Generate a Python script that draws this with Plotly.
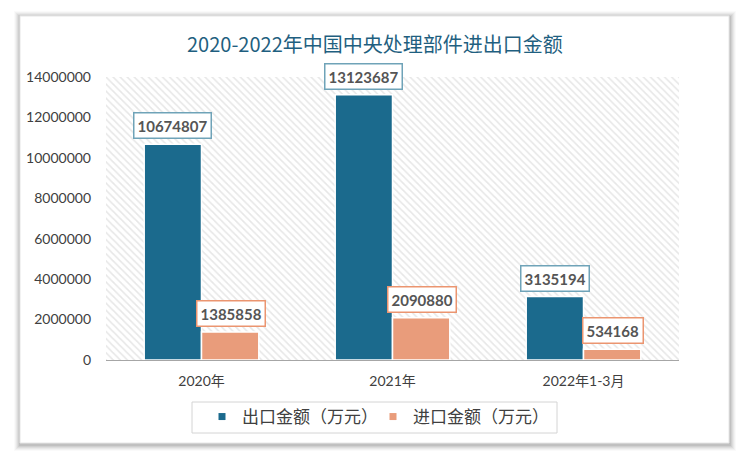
import plotly.graph_objects as go

categories = ["2020年", "2021年", "2022年1-3月"]
export_values = [10674807, 13123687, 3135194]
import_values = [1385858, 2090880, 534168]
export_name = "出口金额（万元）"
import_name = "进口金额（万元）"
title_text = "2020-2022年中国中央处理部件进出口金额"
y_tick_values = [0, 2000000, 4000000, 6000000, 8000000, 10000000, 12000000, 14000000]

EXPORT_COLOR = "#1B6A8D"
IMPORT_COLOR = "#E99C7B"
FONT = "Lato, 'Noto Sans CJK SC', sans-serif"

OFF = 8  # page body margin
W, H = 750 - OFF, 461 - OFF

fig = go.Figure()

# hatched plot-area background
fig.add_trace(go.Bar(
    x=[0.5], y=[y_tick_values[-1]], width=[1], xaxis="x", yaxis="y",
    marker=dict(color="white", line=dict(width=0),
                pattern=dict(shape="\\", fgcolor="#cfcfcf", bgcolor="white", size=5, solidity=0.32)),
    showlegend=False, hoverinfo="skip",
))

fig.add_trace(go.Bar(
    x=categories, y=export_values, name=export_name, xaxis="x2", yaxis="y",
    marker=dict(color=EXPORT_COLOR, line=dict(color="white", width=1.5)),
    showlegend=False,
))
fig.add_trace(go.Bar(
    x=categories, y=import_values, name=import_name, xaxis="x2", yaxis="y",
    marker=dict(color=IMPORT_COLOR, line=dict(color="white", width=1.5)),
    showlegend=False,
))
# legend entries with small square symbols
fig.add_trace(go.Scatter(x=[None], y=[None], mode="markers", name=export_name, xaxis="x2", yaxis="y",
                         marker=dict(symbol="square", size=7, color=EXPORT_COLOR)))
fig.add_trace(go.Scatter(x=[None], y=[None], mode="markers", name=import_name, xaxis="x2", yaxis="y",
                         marker=dict(symbol="square", size=7, color=IMPORT_COLOR)))

annotations = []
for c, v in zip(categories, export_values):
    annotations.append(dict(
        x=c, y=v, xref="x2", yref="y", xshift=-29, yshift=5, yanchor="bottom",
        text=str(v), showarrow=False, bgcolor="white", bordercolor="#6FA3B8",
        borderwidth=1.5, borderpad=3,
        font=dict(family=FONT, size=15, color="#555555", weight="bold"),
    ))
for c, v in zip(categories, import_values):
    annotations.append(dict(
        x=c, y=v, xref="x2", yref="y", xshift=29, yshift=5, yanchor="bottom",
        text=str(v), showarrow=False, bgcolor="white", bordercolor="#EB9570",
        borderwidth=1.5, borderpad=3,
        font=dict(family=FONT, size=15, color="#555555", weight="bold"),
    ))

# plot area in viewport coordinates: x 106..679, y 77..360
L, T = 106 - OFF, 77 - OFF
R = W - (679 - OFF)
B = H - (360 - OFF)
PW, PH = W - L - R, H - T - B

def px(x):
    return (x - OFF - L) / PW

def py(y):
    return (H - B - (y - OFF)) / PH

shapes = []
# soft shadow around the card
for i, op in enumerate([0.02, 0.03, 0.04, 0.05, 0.06, 0.07]):
    d = 6 - i
    shapes.append(dict(type="rect", xref="paper", yref="paper",
                       x0=px(20 - d), x1=px(729 + d + 1), y0=py(443 + d + 2), y1=py(16 - d + 1),
                       fillcolor=f"rgba(0,0,0,{op})", line=dict(width=0), layer="below"))
shapes.append(dict(type="rect", xref="paper", yref="paper",
                   x0=px(20), x1=px(729), y0=py(443), y1=py(16),
                   fillcolor="white", line=dict(color="#e6e6e6", width=1), layer="below"))
# legend border box
shapes.append(dict(type="rect", xref="paper", yref="paper",
                   x0=px(192), x1=px(557), y0=py(433), y1=py(402),
                   fillcolor="rgba(0,0,0,0)", line=dict(color="#d4d4d4", width=1), layer="above"))

annotations.append(dict(
    text=title_text, xref="paper", yref="paper", x=px(375), y=py(43),
    xanchor="center", yanchor="middle", showarrow=False,
    font=dict(family="'Noto Sans CJK SC', sans-serif", size=20, color="#1F5F80"),
))

fig.update_layout(
    width=W, height=H,
    margin=dict(l=L, r=R, t=T, b=B, pad=0),
    paper_bgcolor="white", plot_bgcolor="rgba(0,0,0,0)",
    barmode="group", bargap=0.4, bargroupgap=0,
    xaxis=dict(range=[0, 1], visible=False, fixedrange=True),
    xaxis2=dict(type="category", overlaying="x", anchor="y", side="bottom",
                showline=True, linecolor="#a6a6a6", linewidth=1, ticks="", ticklabelstandoff=8,
                tickfont=dict(family=FONT, size=14, color="#404040"), showgrid=False),
    yaxis=dict(range=[0, 14000000], tickvals=y_tick_values, ticktext=[str(v) for v in y_tick_values],
               showgrid=False, zeroline=False, showline=False, ticks="", ticklabelstandoff=14,
               tickfont=dict(family=FONT, size=14, color="#404040")),
    legend=dict(orientation="h", x=px(202), xanchor="left", y=py(417), yanchor="middle",
                font=dict(family=FONT, size=17, color="#404040"), bgcolor="rgba(0,0,0,0)",
                entrywidth=126, itemwidth=30, tracegroupgap=0),
    shapes=shapes,
    annotations=annotations,
    font=dict(family=FONT),
)

fig.write_html("out.html")
